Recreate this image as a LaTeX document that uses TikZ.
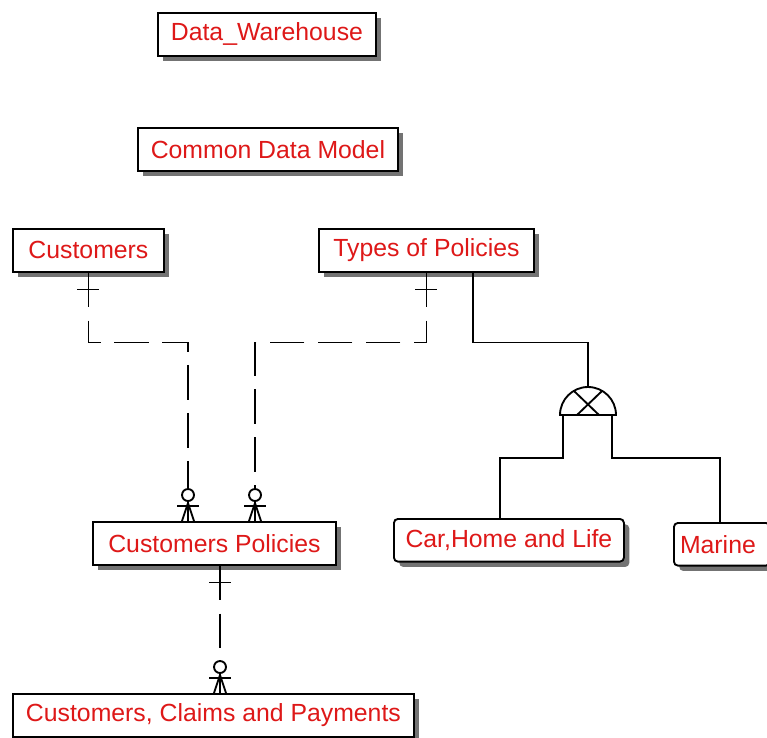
\documentclass[tikz,border=0pt]{standalone}
\usepackage{fontspec}
\setmainfont{Liberation Sans}
\usepackage{xcolor}
\usepackage{tikz}
\usetikzlibrary{calc,shadows}
\definecolor{ertext}{RGB}{222,24,24}
\tikzset{
  ent/.style={draw, line width=1.4pt, fill=white, text=ertext, anchor=north west,
    font=\fontsize{18.6}{20}\selectfont, inner sep=0pt, minimum height=32pt, minimum width=#1,
    drop shadow={shadow xshift=4pt, shadow yshift=-4pt, fill=black!55, opacity=1}},
  subent/.style={ent=#1, rounded corners=3pt},
  rel/.style={line width=1.4pt, dash pattern=on 26pt off 10pt},
  isa/.style={line width=1.4pt},
}
\newcommand{\manyend}[1]{%
  \draw[isa] ($(#1)+(0,-32)$) -- (#1);
  \draw[isa, fill=white] ($(#1)+(0,-26)$) circle[radius=4.5pt];
  \draw[isa] ($(#1)+(-11,-15)$) -- ($(#1)+(11,-15)$);
  \draw[isa] ($(#1)+(-6,0)$) -- ($(#1)+(0,-18)$) -- ($(#1)+(6,0)$);
}
\newcommand{\oneend}[1]{%
  \draw[isa] ($(#1)+(-11,17)$) -- ($(#1)+(11,17)$);
}

\begin{document}
\begin{tikzpicture}[x=0.75pt, y=-0.75pt]
\path[use as bounding box] (0,0) rectangle (767,738);
\clip (0,0) rectangle (767,738);

\node[ent=163.5pt] (dw) at (157,12) {Data\_Warehouse};
\node[ent=195pt] (cdm) at (137,127) {Common Data Model};
\node[ent=113.25pt] (cust) at (12,228) {Customers};
\node[ent=161.25pt] (top) at (318,228) {Types of Policies};
\node[ent=182.25pt] (cp) at (92,521) {Customers Policies};
\node[subent=172.5pt] (chl) at (393,518) {Car,Home and Life};
\node[subent=72pt] (mar) at (673,522) {\hspace{-6pt}Marine};
\node[ent=300.75pt] (ccp) at (12,693) {Customers, Claims and Payments};

\coordinate (cpa) at ($(cp.north west)+(96,0)$);
\coordinate (cpb) at ($(cp.north west)+(163,0)$);
\coordinate (cpc) at ($(cp.south west)+(128,0)$);
\coordinate (ccpa) at ($(ccp.north west)+(208,0)$);
\coordinate (topa) at ($(top.south west)+(155,0)$);
\coordinate (sub) at (588,415);

\draw[rel] (cust.south) -- ++(0,70) -| (cpa);
\draw[rel] (top.south) -- ++(0,70) -| (cpb);
\draw[rel] (cpc) -- (ccpa);

\draw[isa] (topa) -- ++(0,70) -| ($(sub)+(0,-28)$);
\draw[isa] ($(sub)+(-28,0)$) arc[start angle=180, end angle=0, radius=21pt] -- cycle;
\draw[isa] ($(sub)+(-14,-24)$) -- ($(sub)+(11,0)$);
\draw[isa] ($(sub)+(14,-24)$) -- ($(sub)+(-11,0)$);
\draw[isa] ($(sub)+(-25,0)$) -- ++(0,43) -| ($(chl.north west)+(107,0)$);
\draw[isa] ($(sub)+(24,0)$) -- ++(0,43) -| ($(mar.north west)+(47,0)$);

\oneend{cust.south}
\oneend{top.south}
\oneend{cpc}
\manyend{cpa}
\manyend{cpb}
\manyend{ccpa}
\end{tikzpicture}
\end{document}
